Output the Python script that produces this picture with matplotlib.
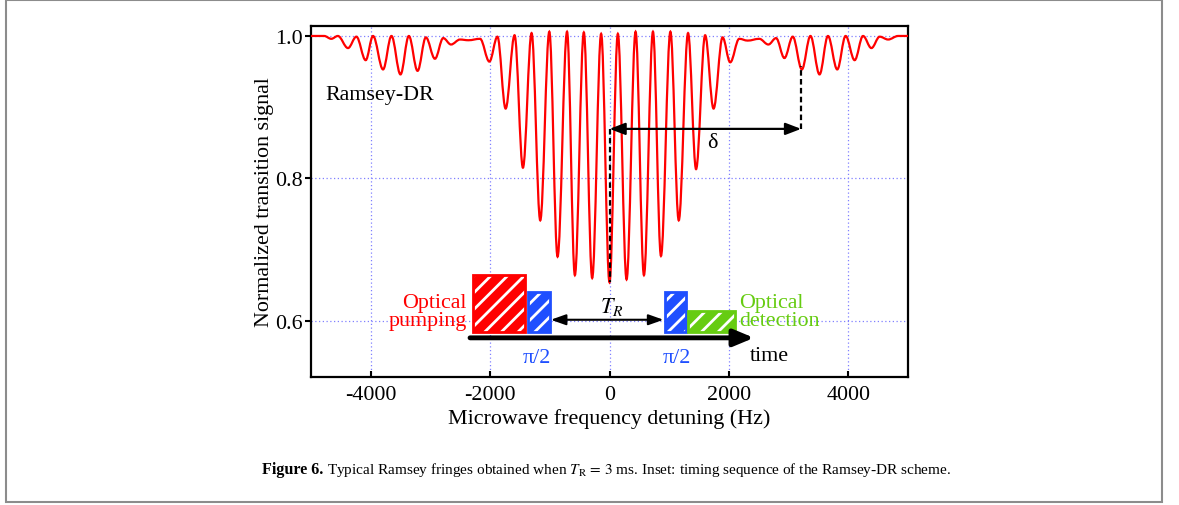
import matplotlib
matplotlib.use('Agg')
import matplotlib.pyplot as plt
from matplotlib.path import Path
from matplotlib.patches import PathPatch, Rectangle

plt.rcParams['font.family'] = ['Liberation Serif', 'DejaVu Serif']
plt.rcParams['mathtext.fontset'] = 'stix'
plt.rcParams['hatch.linewidth'] = 2.0

# fringe extrema (Hz, normalized signal)
detuning_hz = [-5000, -4780, -4660, -4550, -4380, -4240, -4084, -3961, -3793, -3652,
               -3501, -3361, -3215, -3076, -2924, -2785, -2655, -2504, -2364, -2168,
               -2012, -1877, -1740, -1590, -1450, -1305, -1160, -1008, -870, -711,
               -580, -430, -290, -140, 0, 140, 286, 437, 577, 728,
               862, 1020, 1160, 1316, 1450, 1602, 1743, 1894, 2022, 2173,
               2314, 2509, 2661, 2790, 2930, 3070, 3222, 3366, 3518, 3659,
               3815, 3955, 4106, 4247, 4387, 4526, 4667, 4835, 5000]
signal = [1.000, 1.000, 0.996, 1.000, 0.983, 0.999, 0.966, 1.000, 0.953, 1.000,
          0.946, 1.000, 0.951, 0.998, 0.968, 0.997, 0.988, 0.995, 0.994, 0.996,
          0.964, 0.999, 0.898, 1.001, 0.815, 1.004, 0.741, 1.006, 0.690, 1.006,
          0.664, 1.005, 0.660, 1.003, 0.654, 1.003, 0.658, 1.006, 0.664, 1.006,
          0.691, 1.006, 0.741, 1.004, 0.813, 1.001, 0.898, 0.998, 0.963, 0.996,
          0.9935, 0.996, 0.988, 0.997, 0.969, 0.999, 0.953, 1.000, 0.946, 1.000,
          0.953, 1.000, 0.966, 1.000, 0.983, 0.999, 0.995, 1.000, 1.000]

# inset timing boxes: (x0, x1, top) in data units, all sit on the same floor
box_floor = 0.5846
pump_box = (-2281, -1408, 0.6646)
pulse1_box = (-1367, -1003, 0.640)
pulse2_box = (924, 1277, 0.640)
detect_box = (1322, 2101, 0.613)

delta_x = 3210
delta_y = 0.8695

red = '#ff0000'
blue = '#1f4fff'
green = '#66cc11'

fig = plt.figure(figsize=(11.79, 5.06), dpi=100)
ax = fig.add_axes([311/1179, 1 - 378/506, 597/1179, 351/506])

# smooth curve through the extrema (flat tangent at each extremum)
verts = [(detuning_hz[0], signal[0])]
codes = [Path.MOVETO]
for x0, y0, x1, y1 in zip(detuning_hz[:-1], signal[:-1], detuning_hz[1:], signal[1:]):
    d = (x1 - x0) * 0.36
    verts += [(x0 + d, y0), (x1 - d, y1), (x1, y1)]
    codes += [Path.CURVE4] * 3
ax.add_patch(PathPatch(Path(verts, codes), fill=False, edgecolor=red, lw=1.6, zorder=3))

ax.set_xlim(-5000, 5000)
ax.set_ylim(0.521, 1.014)
ax.set_xticks([-4000, -2000, 0, 2000, 4000])
ax.set_xticklabels(['-4000', '-2000', '0', '2000', '4000'])
ax.set_yticks([0.6, 0.8, 1.0])
ax.set_yticklabels(['0.6', '0.8', '1.0'])
ax.grid(True, color='#8080ff', linestyle=(0, (1, 2)), lw=0.9)
ax.set_axisbelow(True)
ax.tick_params(axis='x', direction='in', length=4, width=1.5, pad=6, labelsize=15.8)
ax.tick_params(axis='y', direction='out', length=4, width=1.5, pad=2, labelsize=15.8)
for s in ax.spines.values():
    s.set_linewidth(1.6)
ax.set_xlabel('Microwave frequency detuning (Hz)', fontsize=15.8, labelpad=3)
ax.set_ylabel('Normalized transition signal', fontsize=15.8, labelpad=1)

ax.text(-4756, 0.9116, 'Ramsey-DR', fontsize=15.8, va='baseline')

# delta annotation
ax.plot([0, 0], [delta_y, signal[34]], color='k', lw=1.6, ls=(0, (2.5, 1.5)), zorder=4)
ax.plot([delta_x, delta_x], [delta_y, 0.958], color='k', lw=1.6, ls=(0, (2.5, 1.5)), zorder=4)
ax.annotate('', xy=(delta_x, delta_y), xytext=(0, delta_y),
            arrowprops=dict(arrowstyle='<|-|>,head_length=0.47,head_width=0.18',
                            mutation_scale=20, lw=1.6, color='k',
                            shrinkA=0, shrinkB=0), zorder=4)
ax.text(1726, 0.844, 'δ', fontsize=15.8, ha='center', va='baseline')

# inset timing sequence
def hatched_box(b, color):
    x0, x1, top = b
    ax.add_patch(Rectangle((x0, box_floor), x1 - x0, top - box_floor,
                           facecolor=color, edgecolor='white', hatch='//', lw=0, zorder=5))
    ax.add_patch(Rectangle((x0, box_floor), x1 - x0, top - box_floor,
                           fill=False, edgecolor=color, lw=2, zorder=6))

hatched_box(pump_box, red)
hatched_box(pulse1_box, blue)
hatched_box(pulse2_box, blue)
hatched_box(detect_box, green)

ax.annotate('', xy=(2420, 0.576), xytext=(-2336, 0.576),
            arrowprops=dict(arrowstyle='-|>,head_length=0.6,head_width=0.25',
                            mutation_scale=20, lw=3.5, color='k',
                            shrinkA=0, shrinkB=0), zorder=6)
ax.annotate('', xy=(pulse2_box[0] - 20, 0.6014), xytext=(pulse1_box[1] + 20, 0.6014),
            arrowprops=dict(arrowstyle='<|-|>,head_length=0.45,head_width=0.16',
                            mutation_scale=20, lw=1.5, color='k',
                            shrinkA=0, shrinkB=0), zorder=6)
ax.text(34, 0.612, r'$T_R$', fontsize=16, ha='center', va='baseline', zorder=6)

ax.text(-2392, 0.6196, 'Optical', color=red, fontsize=15.8, ha='right', va='baseline')
ax.text(-2387, 0.5934, 'pumping', color=red, fontsize=15.8, ha='right', va='baseline')
ax.text(2173, 0.6196, 'Optical', color=green, fontsize=15.8, ha='left', va='baseline')
ax.text(2173, 0.5934, 'detection', color=green, fontsize=15.8, ha='left', va='baseline')
ax.text(-1215, 0.5425, 'π/2', color=blue, fontsize=15.8, ha='center', va='baseline')
ax.text(1121, 0.5425, 'π/2', color=blue, fontsize=15.8, ha='center', va='baseline')
ax.text(2358, 0.5443, 'time', color='k', fontsize=15.8, ha='left', va='baseline')

# caption and page frame
fig.patches.append(Rectangle((6/1179, 3/506), 1156/1179, 1 - 4/506,
                             transform=fig.transFigure, fill=False,
                             edgecolor='#8c8c8c', lw=1.5))
cap_y = 1 - 474/506
t1 = fig.text(262/1179, cap_y, 'Figure 6.', fontsize=11.6, fontweight='bold', va='baseline')
fig.canvas.draw()
bb = t1.get_window_extent()
fig.text((bb.x1 + 4)/1179, cap_y,
         r'Typical Ramsey fringes obtained when $T_{\mathrm{R}}\,=\,3$ ms. Inset: timing sequence of the Ramsey-DR scheme.',
         fontsize=11.0, va='baseline')

fig.savefig('out.png', dpi=100)
